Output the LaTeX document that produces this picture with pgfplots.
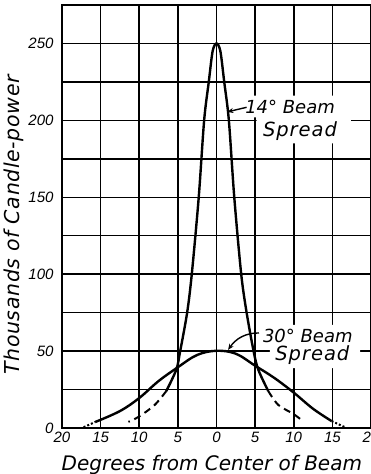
\documentclass[border=0pt]{standalone}
\usepackage{pgfplots}
\pgfplotsset{compat=1.18}
\usetikzlibrary{arrows.meta}
\usepackage{fontspec}
\setmainfont{DejaVu Sans}
\newfontfamily\tickfont{Liberation Sans Italic}
\newfontfamily\ylabfont[LetterSpace=3]{DejaVu Sans}
\newfontfamily\spreadfont[LetterSpace=5]{DejaVu Sans}
\begin{document}
\begin{tikzpicture}
\begin{axis}[name=ax, scale only axis, width=309bp, height=423bp,
  xmin=-20, xmax=20, ymin=0, ymax=275,
  xtick={-20,-15,...,20}, xticklabels={20,15,10,5,0,5,10,15,20},
  ytick={0,50,...,250}, minor ytick={25,75,...,225},
  grid=both,
  major grid style={black, line width=1.5bp},
  minor grid style={black, line width=1.5bp},
  major tick length=0pt, minor tick length=0pt,
  axis line style={black, line width=2bp},
  /pgf/number format/assume math mode=true,
  xticklabel style={font=\fontsize{15bp}{17bp}\tickfont, yshift=-1bp},
  yticklabel style={font=\fontsize{15bp}{17bp}\tickfont, xshift=-5bp},
  xlabel={Degrees from Center of Beam},
  xlabel style={font=\fontsize{20bp}{22bp}\selectfont\itshape, at={(axis description cs:0.485,0)}, anchor=base, yshift=-42bp},
  ylabel={Thousands of Candle-power},
  ylabel style={font=\fontsize{20.5bp}{22bp}\ylabfont\itshape, at={(axis description cs:-0.136,0.48)}, anchor=base},
  clip=false,
]
% 14 degree beam, solid part
\addplot[black, line width=2.4bp, smooth, tension=0.5] coordinates {
(-6.5,24) (-5.2,38) (-4.7,50) (-3.8,75) (-3.2,100) (-2.3,150) (-1.6,200) (-1.0,225) (-0.5,245) (0,250)
(0.5,245) (1.0,225) (1.6,200) (2.3,150) (3.2,100) (3.9,75) (4.8,50) (5.4,38) (6.7,24)};
% 14 degree beam, dashed tails
\addplot[black, line width=2bp, smooth, dash pattern=on 7bp off 5bp] coordinates {
(-6.5,24) (-8,15) (-10,7.5) (-11.4,4)};
\addplot[black, line width=2bp, smooth, dash pattern=on 7bp off 5bp] coordinates {
(6.7,24) (8,15) (10,9) (11.3,4)};
% 30 degree beam
\addplot[black, line width=2.4bp, smooth, tension=0.6] coordinates {
(-15.7,3.9) (-12.5,11) (-10,19.5) (-7.5,30.5) (-5,39.5) (-2.5,47.5) (0,50.2)
(2.5,48.3) (5,40.5) (7.5,32.5) (10,23) (12.5,12.5) (14.9,4.5)};
\addplot[black, line width=2bp, dash pattern=on 2bp off 2bp] coordinates {(-17.2,0.5) (-15.7,3.9)};
\addplot[black, line width=2bp, dash pattern=on 2bp off 2bp] coordinates {(14.9,4.5) (16.6,0.6)};
% annotation backgrounds
\fill[white] (axis cs:3.4,216) -- (axis cs:17.4,216) -- (axis cs:17.4,185) -- (axis cs:5.2,185)
  -- (axis cs:5.2,202) -- (axis cs:3.4,202) -- cycle;
\fill[white] (axis cs:5.6,67) -- (axis cs:18.6,67) -- (axis cs:18.6,39) -- (axis cs:6.9,39)
  -- (axis cs:6.9,54) -- (axis cs:5.6,54) -- cycle;
% annotation texts
\node[inner sep=0pt, anchor=base west, font=\fontsize{18bp}{20bp}\selectfont\itshape] at (axis cs:3.7,204.2) {14° Beam};
\node[inner sep=0pt, anchor=base west, font=\fontsize{19.5bp}{20bp}\spreadfont\itshape] at (axis cs:6.0,189.2) {Spread};
\draw[line width=1.4bp, -{Stealth[length=6bp,width=5bp]}] (axis cs:3.9,208.5) -- (axis cs:1.4,205.5);
\node[inner sep=0pt, anchor=base west, font=\fontsize{18bp}{20bp}\selectfont\itshape] at (axis cs:6.0,55.9) {30° Beam};
\node[inner sep=0pt, anchor=base west, font=\fontsize{19.5bp}{20bp}\spreadfont\itshape] at (axis cs:7.6,43.6) {Spread};
\draw[line width=1.4bp, -{Stealth[length=6bp,width=5bp]}] (axis cs:5.5,61.8) to[out=180,in=55] (axis cs:1.5,50.8);
\end{axis}
\pgfresetboundingbox
\path ([xshift=-62bp,yshift=-46bp]ax.south west) rectangle ([yshift=5bp]ax.north east);
\end{tikzpicture}
\end{document}
